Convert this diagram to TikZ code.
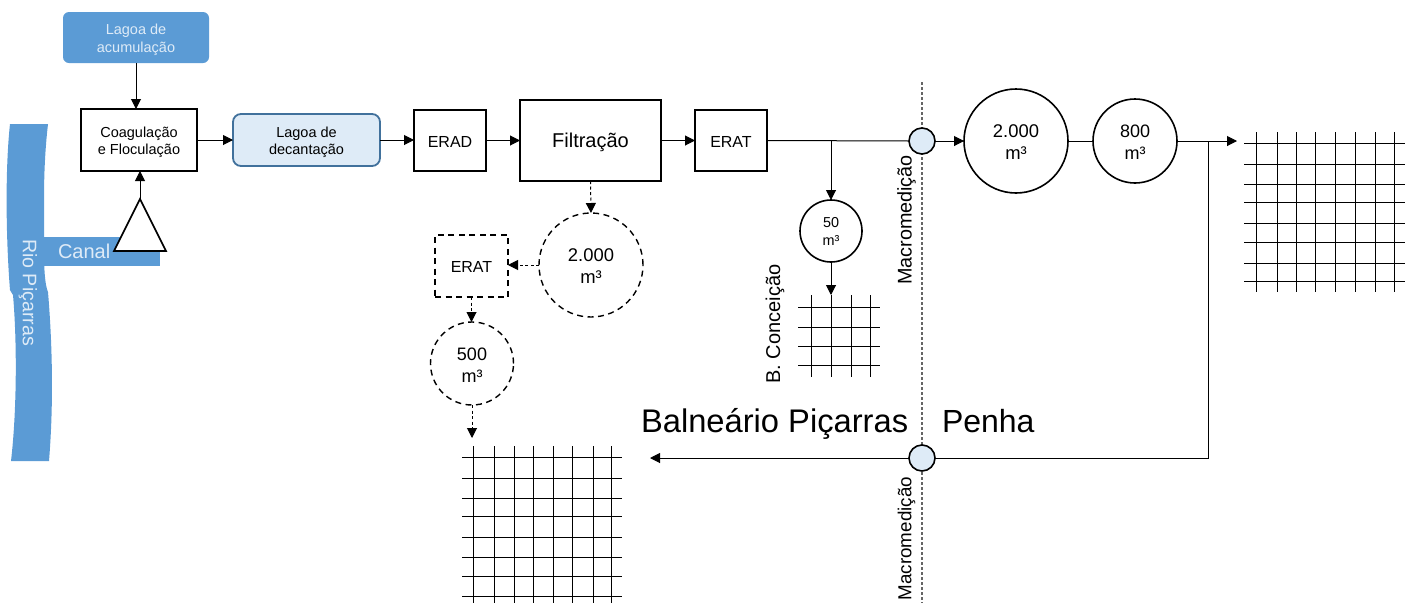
\documentclass[tikz,border=0pt]{standalone}
\usepackage{fontspec}
\setmainfont{Liberation Sans}
\usetikzlibrary{arrows.meta}
\definecolor{riverblue}{HTML}{5B9BD5}
\definecolor{palefill}{HTML}{DEEBF7}
\definecolor{paleedge}{HTML}{41719C}
\newcommand{\fs}[2]{\fontsize{#1}{#2}\selectfont}
\newcommand{\lift}[1]{\rule{0pt}{#1pt}}
\tikzset{
  x=1pt,y=-1pt,
  conn/.style={line width=1pt,-{Triangle[length=10pt,width=10pt]},shorten >=0pt},
  plainline/.style={line width=1pt},
  dconn/.style={line width=1pt,dash pattern=on 3pt off 2.5pt,-{Triangle[length=10pt,width=10pt,sep=0pt]}},
  box/.style={draw,line width=1.8pt,fill=white,inner sep=0pt,outer sep=0pt,align=center},
  dbox/.style={box,dash pattern=on 6pt off 4.5pt,line width=1.4pt},
  tank/.style={circle,draw,line width=1.6pt,fill=white,inner sep=0pt,outer sep=0pt,align=center},
  dtank/.style={tank,dash pattern=on 6pt off 4.5pt,line width=1.4pt},
  meter/.style={circle,draw,line width=1.6pt,fill=palefill,inner sep=0pt,outer sep=0pt,minimum size=26pt},
  netline/.style={line width=1pt},
  label/.style={inner sep=0pt,outer sep=0pt},
}
\begin{document}
\begin{tikzpicture}
\useasboundingbox (0,0) rectangle (1410,603);
% river and canal
\fill[riverblue] (44,237) rectangle (160,266);
\fill[riverblue] (10,124) -- (48,124) .. controls (45,150) and (44,175) .. (44,200) -- (44,250) .. controls (44,270) and (45,285) .. (48,292)
  .. controls (52,340) and (54,400) .. (49,461) -- (11,461) .. controls (17,410) and (17,340) .. (13,295) -- (10,290)
  .. controls (6,240) and (5,170) .. (10,124) -- cycle;
\node[label,text=palefill,rotate=-90,font=\fs{19.6}{22}] (rio) at (28,292.5) {Rio Piçarras};
\node[label,text=palefill,font=\fs{20}{24},anchor=base west] (canal) at (58,258) {Canal};
% boundary lines
\coordinate (limtop) at (922,82);
\coordinate (limbot) at (922,603);
\draw[line width=1.2pt,black!60,dash pattern=on 3pt off 2pt] (limtop) -- (limbot);
% boxes
\node[box,rounded corners=6pt,fill=riverblue,draw=none,minimum width=146pt,minimum height=51pt,text=palefill,font=\fs{14.5}{17.5}] (acum) at (136,37.5) {\lift{14.6}Lagoa de\\acumulação};
\node[box,minimum width=116pt,minimum height=62pt,font=\fs{14.5}{17.5}] (coag) at (139,140) {\lift{15}Coagulação\\e Floculação};
\node[box,rounded corners=8pt,fill=palefill,draw=paleedge,minimum width=147pt,minimum height=52pt,font=\fs{14.5}{17.5}] (dec) at (306.5,140) {\lift{14.6}Lagoa de\\decantação};
\node[box,minimum width=72pt,minimum height=61pt,font=\fs{16}{19}] (erad) at (450,140.5) {\lift{13.5}ERAD};
\node[box,minimum width=141pt,minimum height=81pt,font=\fs{20}{24}] (filt) at (590.5,140.5) {\lift{19}Filtração};
\node[box,minimum width=72pt,minimum height=61pt,font=\fs{16}{19}] (erat) at (731,140.5) {\lift{13.5}ERAT};
\node[meter] (m1) at (922,141) {};
\node[meter] (m2) at (922,458) {};
\node[tank,minimum size=104pt,font=\fs{18.4}{22}] (t2000) at (1016,141) {\lift{15.3}2.000\\m³};
\node[tank,minimum size=84pt,font=\fs{18}{22}] (t800) at (1135,141) {\lift{15}800\\m³};
\node[tank,minimum size=62pt,font=\fs{14.4}{18}] (t50) at (831,231) {50\\m³};
\node[dtank,minimum size=104pt,font=\fs{18.4}{22}] (d2000) at (591,265) {\lift{15.3}2.000\\m³};
\node[dbox,minimum width=73pt,minimum height=62pt,font=\fs{16}{19}] (derat) at (471.5,266) {\lift{13.5}ERAT};
\node[dtank,minimum size=83pt,font=\fs{18}{22}] (d500) at (472,363.5) {\lift{16}500\\m³};
% pump
\coordinate (apex) at (140,199);
\draw[line width=1.6pt,fill=white,line join=miter] (apex) -- (166,251) -- (114,251) -- cycle;
% connectors
\draw[conn] (acum.south) -- (coag.north -| acum.south);
\draw[conn] (apex) -- (apex |- coag.south);
\draw[conn] (coag.east |- dec.west) -- (dec.west);
\draw[conn] (dec.east) -- (erad.west |- dec.east);
\draw[conn] (erad.east) -- (filt.west |- erad.east);
\draw[conn] (filt.east |- erat.west) -- (erat.west);
\draw[plainline] (erat.east) -- (m1.west);
\coordinate (tap50) at (831,141);
\draw[conn] (tap50) -- (t50.north);
\draw[conn] (m1.east) -- (t2000.west);
\draw[plainline] (t2000.east) -- (t800.west);
\coordinate (netin) at (1237,141);
\draw[conn] (t800.east) -- (netin);
\coordinate (tap) at (1208,141);
\coordinate (tapb) at (1208,458);
\draw[plainline] (tap) -- (tapb) -- (m2.east);
\coordinate (netb) at (650,458);
\draw[conn] (m2.west) -- (netb);
\coordinate (net50) at (831,295);
\draw[conn] (t50.south) -- (net50);
\draw[dconn] (filt.south) -- (d2000.north);
\draw[dconn] (d2000.west) -- (derat.east |- d2000.west);
\draw[dconn] (derat.south) -- (derat.south |- d500.north);
\coordinate (net500) at (472,438);
\draw[dconn] (d500.south) -- (net500);
% networks
\foreach \xx in {1256,1277,1296,1315,1335,1355,1375,1394} \draw[netline] (\xx,132) -- (\xx,292);
\foreach \yy in {143,164,184,202,223,242,263,281} \draw[netline] (1244,\yy) -- (1405,\yy);
\foreach \xx in {473,494,514,533,553,572,593,611} \draw[netline] (\xx,446) -- (\xx,603);
\foreach \yy in {457,478,498,516,537,557,576,596} \draw[netline] (462,\yy) -- (622,\yy);
\foreach \xx in {811,831,851,870} \draw[netline] (\xx,295) -- (\xx,377);
\foreach \yy in {307,327,346,365} \draw[netline] (798,\yy) -- (880,\yy);
% labels
\node[label,rotate=90,font=\fs{19.8}{24}] (macro1) at (906.5,220) {Macromedição};
\node[label,rotate=90,font=\fs{18.8}{24},anchor=east] (macro2) at (906.5,477) {Macromedição};
\node[label,rotate=90,font=\fs{20}{24}] (bconc) at (775,324) {B. Conceição};
\node[label,anchor=base west,font=\fs{32.7}{38}] (bp) at (641,432) {Balneário Piçarras};
\node[label,anchor=base west,font=\fs{32}{38}] (penha) at (942,432) {Penha};
\end{tikzpicture}
\end{document}
